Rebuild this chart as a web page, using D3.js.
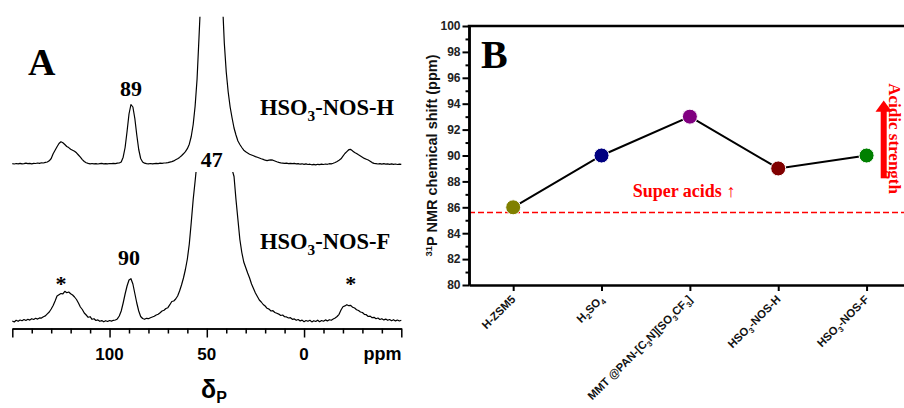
<!DOCTYPE html>
<html>
<head>
<meta charset="utf-8">
<script src="https://cdn.jsdelivr.net/npm/d3@7"></script>
<style>
  html, body { margin: 0; padding: 0; background: #fff; }
  svg { display: block; }
</style>
</head>
<body>
<svg id="fig" width="904" height="408"></svg>
<script>
// ---------- Panel A: 31P MAS NMR spectra (TMPO probe) ----------
// Intensities (a.u.) on a 1 ppm grid, from 150 ppm down to -50 ppm.
const ppmStart = 150;
const ppmStep = -1;

const spectrumH = [
  0.3, 0.0, 0.5, 0.2, 0.6, 0.1, 0.4, 0.8, 0.3, 0.6,
  0.2, 0.7, 0.5, 1.0, 0.6, 1.2, 1.0, 1.6, 2.0, 3.2,
  5.5, 10.3, 13.8, 17.2, 20.5, 22.2, 21.3, 19.5, 17.5, 16.4,
  14.8, 13.8, 12.8, 11.2, 9.0, 6.8, 4.4, 2.5, 1.2, 0.6,
  0.2, 0.5, 0.1, 0.4, 0.0, 0.3, 0.6, 0.2, 0.4, 0.1,
  0.5, 0.3, 0.6, 0.4, 0.9, 1.0, 2.0, 6.8, 16.5, 32.5,
  50.0, 59.5, 57.0, 45.5, 29.0, 14.5, 5.5, 2.0, 0.8, 0.3,
  0.2, 0.5, 0.1, 0.4, 0.6, 0.3, 0.8, 0.6, 1.0, 1.1,
  1.4, 1.9, 2.4, 3.1, 4.2, 5.2, 6.6, 8.3, 10.2, 12.4,
  15.3, 19.8, 27.5, 39.5, 58, 85, 127, 170, 220, 280,
  340, 390, 420, 420, 395, 345, 280, 215, 165, 121,
  92, 72, 57, 46, 36, 29, 23, 19.5, 16.5, 13.8,
  12.3, 11, 9.8, 9.0, 8.2, 7.4, 6.8, 6.0, 5.2, 4.6,
  3.8, 3.4, 3.8, 4.2, 3.8, 3.0, 2.2, 1.6, 1.2, 0.9,
  0.6, 0.9, 0.4, 0.7, 0.3, 0.6, 0.1, 0.4, -0.2, 0.2,
  -0.4, 0.1, -0.5, -0.2, -0.8, -0.4, -0.9, -0.3, -0.7, -0.2,
  -0.5, 0.0, -0.3, 0.3, 0.1, 0.7, 1.5, 2.6, 3.8, 5.2,
  7.8, 10.5, 12.4, 14.3, 14.6, 13.0, 11.5, 10.5, 9.2, 8.0,
  6.8, 5.6, 4.8, 4.0, 2.8, 1.4, 0.6, 0.3, 0.0, 0.4,
  -0.1, 0.3, -0.2, 0.2, -0.3, 0.1, -0.4, 0.0, -0.5, -0.1,
  -0.3
];

const spectrumF = [
  0.5, -0.5, 1.2, 0.2, 1.5, 0.8, 2.0, 1.0, 2.2, 1.4,
  2.8, 2.0, 3.2, 2.4, 3.6, 3.4, 4.8, 5.6, 7.6, 9.5,
  12.5, 16.0, 20.5, 25.5, 26.8, 28.0, 27.6, 30.2, 28.8, 29.5,
  27.8, 26.5, 24.5, 22.0, 18.5, 14.5, 12.0, 8.5, 6.5, 4.2,
  4.8, 2.2, 2.8, 1.0, 1.6, 0.2, 0.9, -0.3, 0.8, 0.0,
  1.0, 0.4, 1.2, 1.5, 2.6, 5.5, 10.5, 18.5, 27.5, 35.5,
  41.5, 42.8, 37.5, 28.0, 18.5, 10.5, 5.0, 3.0, 2.2, 3.2,
  2.8, 3.8, 4.5, 5.2, 6.5, 7.2, 8.8, 10.5, 11.2, 13.0,
  13.8, 16.8, 20.0, 20.5, 22.5, 25.5, 30.5, 36.5, 43.5, 52.0,
  62.5, 77.5, 99.0, 122.0, 140.5, 160, 200, 250, 310, 370,
  420, 460, 480, 490, 490, 470, 430, 370, 310, 260,
  220, 190, 165, 152, 145, 122, 102, 82, 69, 59.5,
  54, 48.5, 43.5, 37.5, 33.0, 28.5, 25.0, 21.5, 19.5, 17.0,
  15.5, 13.2, 12.4, 10.5, 10.8, 9.0, 8.2, 7.4, 6.0, 6.5,
  4.8, 4.6, 3.5, 3.8, 2.2, 2.6, 1.2, 2.0, 0.6, 1.4,
  -0.2, 1.0, 0.2, 1.2, -0.4, 0.8, 0.0, 1.3, -0.2, 1.0,
  0.3, 1.6, 0.6, 1.8, 1.2, 2.4, 3.5, 5.0, 7.2, 11.5,
  14.8, 15.6, 16.8, 15.8, 16.2, 14.2, 13.5, 11.8, 11.0, 9.5,
  9.0, 7.2, 6.8, 5.0, 5.4, 3.8, 4.2, 2.8, 3.5, 2.0,
  2.8, 1.6, 2.4, 1.2, 2.0, 0.8, 1.8, 0.6, 1.5, 0.5,
  1.2
];

const spectrumNames = ["HSO_3-NOS-H", "HSO_3-NOS-F"];
const peakPpmH = [89];
const peakPpmF = [90];
const mainPeakPpm = 47;
const sidebandPpmF = [125, -24];
const ppmMajorTicks = [150, 100, 50, 0, -50];
const ppmMinorTicks = [140, 130, 120, 110, 90, 80, 70, 60, 40, 30, 20, 10, -10, -20, -30, -40];
const ppmTickLabels = [100, 50, 0];

// ---------- Panel B: 31P chemical shift of adsorbed TMPO ----------
const acids = ["H-ZSM5", "H_2SO_4", "MMT @PAN-[C_3N][SO_3CF_3]", "HSO_3-NOS-H", "HSO_3-NOS-F"];
const shifts = [86, 90, 93, 89, 90];
const markerColors = ["#808000", "#000080", "#800080", "#800000", "#008000"];
const shiftTicks = [80, 82, 84, 86, 88, 90, 92, 94, 96, 98, 100];
const shiftMinorTicks = [81, 83, 85, 87, 89, 91, 93, 95, 97, 99];
const superAcidLimit = 85.6;

const SERIF = "'Liberation Serif', 'Times New Roman', Times, serif";
const SANS = "'Liberation Sans', Arial, Helvetica, sans-serif";

const svg = d3.select("#fig");
svg.append("rect").attr("width", 904).attr("height", 408).attr("fill", "#fff");

// Writes a label where "_d" marks a subscript digit.
function richText(textSel, str, size) {
  const parts = str.split(/(_\d)/).filter(s => s.length);
  let shifted = false;
  parts.forEach(p => {
    if (p.startsWith("_")) {
      textSel.append("tspan").text(p.slice(1))
        .attr("font-size", size * 0.68)
        .attr("dy", size * 0.28);
      shifted = true;
    } else {
      const t = textSel.append("tspan").text(p).attr("font-size", size);
      if (shifted) { t.attr("dy", -size * 0.28); shifted = false; }
    }
  });
}

// ===== Panel A =====
const gA = svg.append("g");
const xA = d3.scaleLinear().domain([150, -50]).range([12.3, 401.3]);
const yH = d3.scaleLinear().domain([0, 100]).range([164, 64]);
const yF = d3.scaleLinear().domain([0, 100]).range([321.5, 221.5]);

const defs = svg.append("defs");
defs.append("clipPath").attr("id", "clipH")
  .append("rect").attr("x", 0).attr("y", 16.7).attr("width", 420).attr("height", 160);
defs.append("clipPath").attr("id", "clipF")
  .append("rect").attr("x", 0).attr("y", 172).attr("width", 420).attr("height", 160);

const ppmAt = i => ppmStart + i * ppmStep;
const lineH = d3.line().x((d, i) => xA(ppmAt(i))).y(d => yH(d));
const lineF = d3.line().x((d, i) => xA(ppmAt(i))).y(d => yF(d));

gA.append("path").datum(spectrumH).attr("d", lineH)
  .attr("clip-path", "url(#clipH)")
  .attr("fill", "none").attr("stroke", "#000").attr("stroke-width", 1.2)
  .attr("stroke-linejoin", "round");
gA.append("path").datum(spectrumF).attr("d", lineF)
  .attr("clip-path", "url(#clipF)")
  .attr("fill", "none").attr("stroke", "#000").attr("stroke-width", 1.2)
  .attr("stroke-linejoin", "round");

// ppm axis
const axisY = 328.5;
const axMajor = gA.append("g").attr("transform", `translate(0,${axisY})`)
  .call(d3.axisBottom(xA).tickValues(ppmMajorTicks).tickSize(9).tickSizeOuter(0).tickFormat(""));
const axMinor = gA.append("g").attr("transform", `translate(0,${axisY})`)
  .call(d3.axisBottom(xA).tickValues(ppmMinorTicks).tickSize(5).tickSizeOuter(0).tickFormat(""));
[axMajor, axMinor].forEach(a => {
  a.selectAll("path, line").attr("stroke", "#000").attr("stroke-width", 1.5);
});

gA.selectAll("text.ppmlab").data(ppmTickLabels).join("text")
  .attr("class", "ppmlab")
  .attr("x", d => xA(d)).attr("y", 360)
  .attr("text-anchor", "middle")
  .attr("font-family", SANS).attr("font-weight", "bold").attr("font-size", 17)
  .text(d => d);
gA.append("text").attr("x", 401.5).attr("y", 360).attr("text-anchor", "end")
  .attr("font-family", SANS).attr("font-weight", "bold").attr("font-size", 18)
  .text("ppm");

const dP = gA.append("text").attr("x", 201).attr("y", 398)
  .attr("font-family", SANS).attr("font-weight", "bold");
dP.append("tspan").attr("font-size", 25).text("δ");
dP.append("tspan").attr("font-size", 16).attr("dy", 5).text("P");

// Peak annotations
const peakText = (x, y, t) => gA.append("text").attr("x", x).attr("y", y)
  .attr("text-anchor", "middle")
  .attr("font-family", SERIF).attr("font-weight", "bold").attr("font-size", 22)
  .text(t);
peakPpmH.forEach(p => peakText(xA(p), 96, p));
peakPpmF.forEach(p => peakText(xA(p), 265, p));
peakText(xA(mainPeakPpm) - 1, 167, mainPeakPpm);
sidebandPpmF.forEach(p => peakText(xA(p), 291, "*"));

// Sample names
[115, 248.5].forEach((yb, k) => {
  const t = gA.append("text").attr("x", 260).attr("y", yb)
    .attr("font-family", SERIF).attr("font-weight", "bold");
  richText(t, spectrumNames[k], 22.5);
});

gA.append("text").attr("x", 28).attr("y", 75)
  .attr("font-family", SERIF).attr("font-weight", "bold").attr("font-size", 38)
  .text("A");

// ===== Panel B =====
const gB = svg.append("g");
const xB = d3.scalePoint().domain(acids).range([469, 910.75]).padding(0.5);
const yB = d3.scaleLinear().domain([80, 100]).range([285, 26]);

// super-acid threshold
gB.append("line")
  .attr("x1", 469).attr("x2", 910).attr("y1", yB(superAcidLimit)).attr("y2", yB(superAcidLimit))
  .attr("stroke", "#ff0000").attr("stroke-width", 1.6).attr("stroke-dasharray", "6,3");

// connecting line and markers
gB.append("path").datum(shifts)
  .attr("d", d3.line().x((d, i) => xB(acids[i])).y(d => yB(d)))
  .attr("fill", "none").attr("stroke", "#000").attr("stroke-width", 2);
gB.selectAll("circle.pt").data(shifts).join("circle")
  .attr("class", "pt")
  .attr("cx", (d, i) => xB(acids[i])).attr("cy", d => yB(d)).attr("r", 7.5)
  .attr("fill", (d, i) => markerColors[i])
  .attr("stroke", "#fff").attr("stroke-width", 1);

// axes
const yAx = gB.append("g").attr("transform", "translate(469,0)")
  .call(d3.axisLeft(yB).tickValues(shiftTicks).tickSize(6.5).tickSizeOuter(0).tickPadding(2));
yAx.selectAll("text").attr("font-family", SANS).attr("font-weight", "bold")
  .attr("font-size", 12).attr("fill", "#222");
const yMin = gB.append("g").attr("transform", "translate(469,0)")
  .call(d3.axisLeft(yB).tickValues(shiftMinorTicks).tickSize(3.5).tickSizeOuter(0).tickFormat(""));
const xAx = gB.append("g").attr("transform", "translate(0,285)")
  .call(d3.axisBottom(xB).tickSize(6).tickSizeOuter(0).tickFormat(""));
[yAx, yMin, xAx].forEach(a => {
  a.select(".domain").attr("stroke", "#000").attr("stroke-width", 2.5);
  a.selectAll(".tick line").attr("stroke", "#000").attr("stroke-width", 2);
});
// frame top
gB.append("line").attr("x1", 467.75).attr("x2", 910).attr("y1", 26).attr("y2", 26)
  .attr("stroke", "#000").attr("stroke-width", 2.5);

// category labels
acids.forEach(a => {
  const t = gB.append("text")
    .attr("transform", `translate(${xB(a) + 3},${300}) rotate(-45)`)
    .attr("text-anchor", "end")
    .attr("font-family", SANS).attr("font-weight", "bold").attr("fill", "#111");
  richText(t, a, 11.3);
});

// y title, centred on the axis
const yt = gB.append("text").attr("transform", `translate(437,${(yB(80) + yB(100)) / 2}) rotate(-90)`)
  .attr("text-anchor", "middle")
  .attr("font-family", SANS).attr("font-weight", "bold").attr("fill", "#111");
yt.append("tspan").attr("font-size", 9.5).attr("dy", -5.5).text("31");
yt.append("tspan").attr("font-size", 14.5).attr("dy", 5.5).text("P NMR chemical shift (ppm)");

gB.append("text").attr("x", 481).attr("y", 68)
  .attr("font-family", SERIF).attr("font-weight", "bold").attr("font-size", 40)
  .text("B");

gB.append("text").attr("x", 632.7).attr("y", 196.7)
  .attr("font-family", SERIF).attr("font-weight", "bold").attr("font-size", 18)
  .attr("fill", "#ff0000").text("Super acids \u2191");

// acidic strength arrow
gB.append("line").attr("x1", 883.7).attr("x2", 883.7).attr("y1", 178.3).attr("y2", 110)
  .attr("stroke", "#ff0000").attr("stroke-width", 6);
gB.append("path").attr("d", "M875.5,111.7 L892,111.7 L883.7,100.5 Z").attr("fill", "#ff0000");
gB.append("text").attr("transform", "translate(889,83.3) rotate(90)")
  .attr("font-family", SERIF).attr("font-weight", "bold").attr("font-size", 17)
  .attr("fill", "#ff0000").text("Acidic strength");
</script>
</body>
</html>
